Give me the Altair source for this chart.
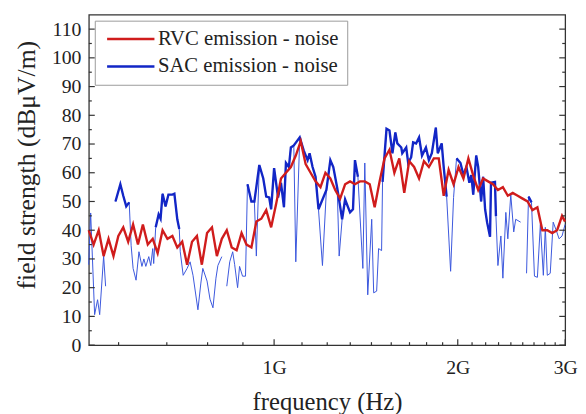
import altair as alt
import pandas as pd

SERIES = ["RVC emission - noise", "SAC emission - noise"]
RED = "#d01c1c"
BLUE = "#1226c6"
THIN = "#3a56dc"
FONT = "Liberation Serif"

# ---- RVC (red) trace: frequency in GHz, level in dBuV/m
rvc_freq = [0.4967, 0.5060, 0.5158, 0.5255, 0.5353, 0.5454, 0.5555, 0.5659, 0.5765, 0.5873,
            0.5982, 0.6094, 0.6208, 0.6325, 0.6443, 0.6564, 0.6686, 0.6812, 0.6939, 0.7069,
            0.7201, 0.7336, 0.7473, 0.7613, 0.7764, 0.7910, 0.8058, 0.8209, 0.8364, 0.8521,
            0.8681, 0.8844, 0.9010, 0.9179, 0.9352, 0.9528, 0.9707, 0.9889, 1.0074, 1.0263,
            1.0457, 1.0653, 1.0853, 1.1057, 1.1264, 1.1476, 1.1693, 1.1913, 1.2137, 1.2365,
            1.2594, 1.2831, 1.3073, 1.3319, 1.3569, 1.3824, 1.4081, 1.4346, 1.4616, 1.4891,
            1.5171, 1.5456, 1.5745, 1.6041, 1.6343, 1.6650, 1.6963, 1.7282, 1.7604, 1.7935,
            1.8273, 1.8616, 1.8967, 1.9323, 1.9687, 2.0057, 2.0434, 2.0818, 2.1205, 2.1603,
            2.2009, 2.2423, 2.2845, 2.3274, 2.3714, 2.4160, 2.4614, 2.5077, 2.5547, 2.6027,
            2.6516, 2.7014, 2.7524, 2.8041, 2.8567, 2.9104, 2.9648, 2.9985]
rvc_level = [40, 35, 40, 31, 37, 31, 38, 41, 36, 42,
             35, 42, 35, 37, 32, 40, 37, 38, 34, 36,
             28, 36, 38, 28, 39, 41, 31, 37, 40, 34,
             33, 39, 35, 34, 43, 44, 47, 41, 49, 58,
             60, 62, 66, 71, 63, 60, 57, 55, 60, 58,
             54, 51, 56, 57, 56, 57, 57, 56, 48, 57,
             65, 68, 60, 65, 53, 64, 62, 58, 64, 62,
             65, 65, 52, 61, 56, 62, 58, 65, 59, 54,
             58, 57, 56, 54, 55, 52, 53, 52, 51, 50,
             47, 48, 40, 40, 39, 40, 45, 43]

# ---- SAC (blue) trace, full (thin) path; None = gap in the trace
sac_freq = [0.4967, 0.5004, 0.5079, 0.5136, 0.5177, 0.5255, 0.5294, 0.5393,
            0.5495, 0.5597, 0.5659, 0.5723, 0.5787,
            0.5830, 0.5873, 0.5939, 0.6004, 0.6072, 0.6117, 0.6162, 0.6231, 0.6278, 0.6325, 0.6348,
            0.6396, 0.6467, 0.6515, 0.6564, 0.6638, 0.6711, 0.6812, 0.6863, 0.6939, 0.6991,
            0.7017, 0.7095, 0.7201, 0.7282, 0.7363, 0.7501, 0.7585, 0.7641, 0.7764, 0.7851,
            0.7939, 0.8029, 0.8088, 0.8209, 0.8302, 0.8364, 0.8458, 0.8553, 0.8617, 0.8713,
            0.8778, 0.8877, 0.8977,
            0.9044, 0.9179, 0.9282,
            0.9352,
            0.9457, 0.9599, 0.9707, 0.9816, 0.9889, 1.0000, 1.0150, 1.0263, 1.0378, 1.0457,
            1.0574, 1.0653, 1.0772,
            1.0853,
            1.1016, 1.1181, 1.1348, 1.1433, 1.1562, 1.1693, 1.1824,
            1.2002,
            1.2182, 1.2365, 1.2503, 1.2688,
            1.2783,
            1.2927, 1.3073, 1.3319, 1.3468, 1.3569, 1.3721,
            1.3979, 1.4081, 1.4239, 1.4454, 1.4562, 1.4726, 1.4835, 1.5003,
            1.5058, 1.5285, 1.5456, 1.5629, 1.5804, 1.5921, 1.6161, 1.6221, 1.6465, 1.6588,
            1.6775, 1.6900, 1.7090, 1.7282, 1.7476, 1.7736, 1.7935, 1.8136, 1.8410, 1.8547,
            1.8824, 1.8967, 1.9179,
            1.9468, 1.9687,
            1.9908, 2.0207, 2.0434, 2.0663, 2.0896, 2.1051, 2.1205, 2.1443, 2.1603, 2.1845,
            2.2009, 2.2174, 2.2339, 2.2591, 2.2674, 2.3016, 2.3101,
            2.3274, 2.3535, 2.3714, 2.3980, 2.4160, 2.4431, 2.4705, 2.4890, 2.5358, 2.5642, 2.5930,
            2.6124, 2.6418,
            2.6715, 2.7014, 2.7317, 2.7627, 2.7833, 2.8041, 2.8355, 2.8673, 2.8996, 2.9322,
            2.9648, 2.9985]
sac_level = [28, 46, 10.6, 15.8, 10.6, 31, 20.5, None,
             50, 56, 52, 48.3, 49.7,
             34.6, 26.7, 22.6, 32.5, 27.4, 30, 27.4, 30.8, 27.7, 33.6, 28.4,
             41, 45.5, 44, 52.7, 48.3, 52.4, 52.4, 52.7, 43.8, 40.4,
             32.5, 24.3, 26.7, 29, 24.3, 12.3, 21.6, 26.7, 22.3, 16,
             13, 23.3, 27.7, 30.8, None, 20.5, 29, 32.5, 28, 20,
             27.4, 24, 24,
             56, 50, 50,
             31,
             62.7, 58, 51.7, 51.4, 47.3, 61.6, 51.4, 56.5, 48, 63.4,
             62, 68.8, 69.5,
             29,
             72.3, 67.8, 64.4, 66.8, 62, 58.6, 47.3,
             27.7,
             54, 64.4, 62, 54.8,
             31,
             43.8, 50.7, 46.2, 47.3, 64.4, 58.6,
             26.7, 63.4, 17.5, 43.8, 18.2, 18.8, 33.6, 32.9,
             56.8, 75.3, 74.7, 66.8, 74, 70.2, 68.8, 66.8, 68.8, 63.4,
             65.4, 70.6, 70.2, 72.3, 66, 68.8, 64.4, 66.8, 75.7, 66.8,
             70.2, 62, 51.7,
             25.7, 51.4,
             65, 63.4, 59.2, 62, 56.5, 59.2, 52.4, 66, 62, 50,
             58.6, 47.3, 42.8, 37.7, 56.5, 56.8, 44.9,
             27.7, 38, 23.3, 46.2, 37, 52.4, 39.4, 43.8, 42.8, None, 25,
             51.7, 49.7,
             24, 23.6, 42, 24.3, 41, 24.3, 25, 42.8, 40, 37,
             38, 42]
# which points belong to the bold SAC line: T = bold, S = thin spike under bold line, - = thin only
sac_style = ("-" * 8 + "T" * 5 + "-" * 11 + "T" * 10 + "-" * 23 + "T" * 3 + "S" + "T" * 13 + "S"
             + "T" * 7 + "S" + "T" * 4 + "S" + "T" * 6 + "-" * 8 + "T" * 23 + "-" * 2 + "T" * 17
             + "-" * 11 + "T" * 2 + "-" * 12)

# axis ticks
x_major = [1, 2, 3]
x_minor = [0.556, 0.667, 0.778, 0.889, 1.111, 1.222, 1.333, 1.444, 1.556, 1.667, 1.778, 1.889,
           2.111, 2.222, 2.333, 2.444, 2.556, 2.667, 2.778, 2.889]
y_major = [0, 10, 20, 30, 40, 50, 60, 70, 80, 90, 100, 110]
y_minor = [5, 15, 25, 35, 45, 55, 65, 75, 85, 95, 105]

rvc = pd.DataFrame({"freq": rvc_freq, "level": rvc_level, "series": SERIES[0]})
sac_thin = pd.DataFrame({"freq": sac_freq, "level": sac_level})
rows = []
for f, v, s in zip(sac_freq, sac_level, sac_style, strict=True):
    if s == "T":
        rows.append((f, v))
    elif s == "-":
        rows.append((f, None))
sac_bold = pd.DataFrame(rows, columns=["freq", "level"])
sac_bold["series"] = SERIES[1]

W, H = 483, 335
xscale = alt.Scale(type="log", domain=[0.497, 3.0], nice=False)
yscale = alt.Scale(domain=[0, 115], nice=False)
xaxis = alt.Axis(values=x_major, labelExpr="datum.value + 'G'", title="frequency (Hz)",
                 labelFont=FONT, titleFont=FONT,
                 labelFontSize=20, titleFontSize=25, labelPadding=13, titlePadding=12,
                 labelFlush=False)
yaxis = alt.Axis(values=y_major, title="field strength (dBμV/m)", labelFont=FONT, titleFont=FONT,
                 labelFontSize=20, titleFontSize=26, labelPadding=8, titlePadding=12, titleY=152)
X = alt.X("freq:Q", scale=xscale, axis=xaxis)
Y = alt.Y("level:Q", scale=yscale, axis=yaxis)
color = alt.Color("series:N", scale=alt.Scale(domain=SERIES, range=[RED, BLUE]),
                  legend=alt.Legend(title=None, orient="none", legendX=6, legendY=6,
                                    symbolType="M-1,0L7,0", symbolSize=144, symbolStrokeWidth=2.5,
                                    labelFont=FONT, labelFontSize=21, labelColor="#222",
                                    labelLimit=0, labelOffset=35, padding=8, rowPadding=6,
                                    strokeColor="#9a9a9a", fillColor="white", cornerRadius=0))

line_kw = dict(invalid="break-paths-filter-domains", interpolate="linear")
thin = alt.Chart(sac_thin).mark_line(color=THIN, strokeWidth=1.0, **line_kw).encode(x=X, y=Y)
bold = alt.Chart(sac_bold).mark_line(strokeWidth=2.4, **line_kw).encode(x=X, y=Y, color=color)
red = alt.Chart(rvc).mark_line(strokeWidth=2.4, **line_kw).encode(x=X, y=Y, color=color)

tick_col = "#333"
xt_major = alt.Chart(pd.DataFrame({"freq": x_major})).mark_rule(color=tick_col, strokeWidth=1.2).encode(
    x=X, y=alt.value(H), y2=alt.value(H - 6))
xt_minor = alt.Chart(pd.DataFrame({"freq": x_minor})).mark_rule(color=tick_col, strokeWidth=1.2).encode(
    x=X, y=alt.value(H), y2=alt.value(H - 3))
yt_major_l = alt.Chart(pd.DataFrame({"level": y_major})).mark_rule(color=tick_col, strokeWidth=1.2).encode(
    y=Y, x=alt.value(0), x2=alt.value(6))
yt_minor_l = alt.Chart(pd.DataFrame({"level": y_minor})).mark_rule(color=tick_col, strokeWidth=1.2).encode(
    y=Y, x=alt.value(0), x2=alt.value(3))
yt_major_r = alt.Chart(pd.DataFrame({"level": y_major})).mark_rule(color=tick_col, strokeWidth=1.2).encode(
    y=Y, x=alt.value(W - 6), x2=alt.value(W))
yt_minor_r = alt.Chart(pd.DataFrame({"level": y_minor})).mark_rule(color=tick_col, strokeWidth=1.2).encode(
    y=Y, x=alt.value(W - 3), x2=alt.value(W))

chart = alt.layer(thin, bold, red, xt_major, xt_minor, yt_major_l, yt_minor_l, yt_major_r, yt_minor_r).properties(
    width=W, height=H,
    padding={"left": 82, "top": 4, "right": 13, "bottom": 67},
    autosize=alt.AutoSizeParams(type="none"),
).configure(
    font=FONT
).configure_view(
    stroke="#333", strokeWidth=1.3
).configure_axis(
    grid=False, ticks=False, domain=False,
    labelFont=FONT, titleFont=FONT, titleFontWeight="normal",
    labelColor="#222", titleColor="#222",
).configure_legend(
    labelFont=FONT, labelLimit=0
)

chart.save("out.html", embed_options={"renderer": "svg", "actions": False})
